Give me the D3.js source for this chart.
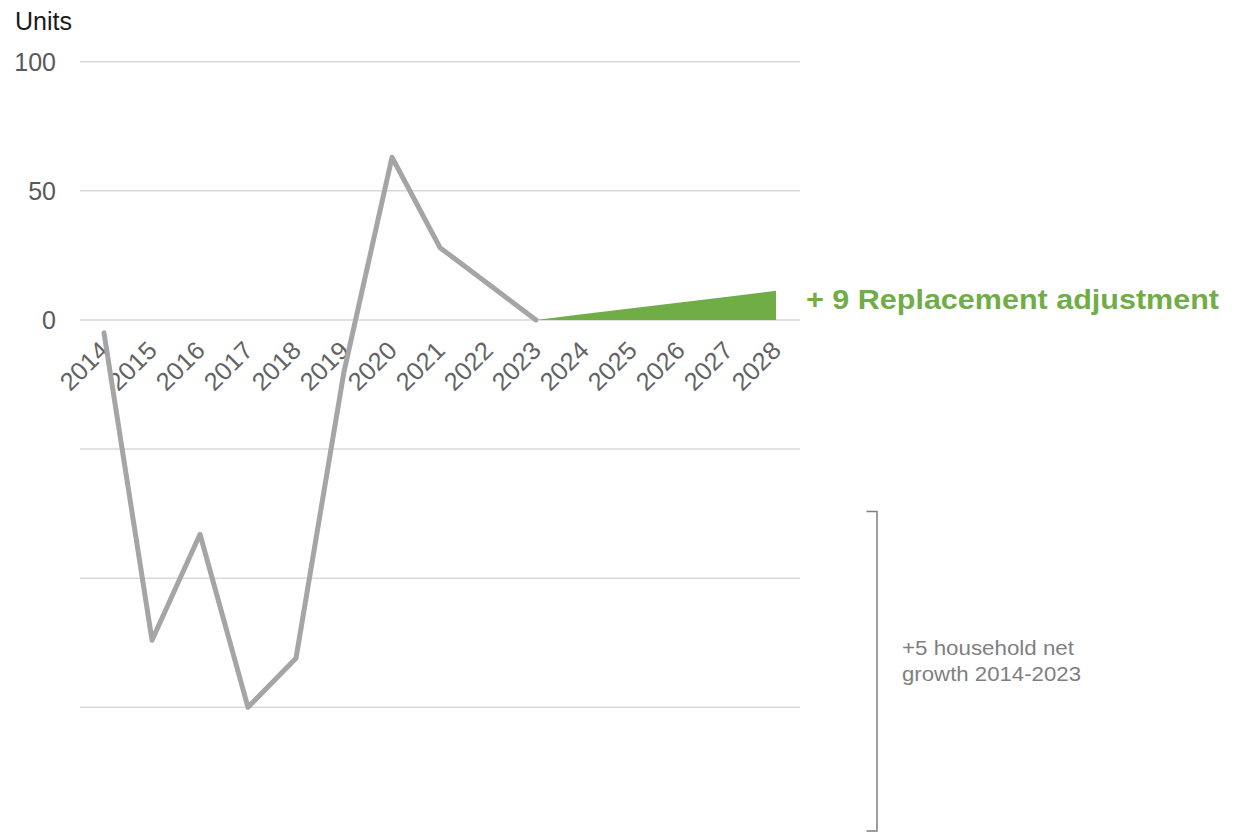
<!DOCTYPE html>
<html>
<head>
<meta charset="utf-8">
<script src="https://cdn.jsdelivr.net/npm/d3@7"></script>
<style>
  html, body { margin: 0; padding: 0; background: #fff; }
  svg { display: block; font-family: "Liberation Sans", Arial, sans-serif; }
</style>
</head>
<body>
<svg id="chart" width="1245" height="833"></svg>
<script>
// ---- data ----
const years = ["2014","2015","2016","2017","2018","2019","2020","2021","2022","2023","2024","2025","2026","2027","2028"];
const historyYears = ["2014","2015","2016","2017","2018","2019","2020","2021","2022","2023"];
const historyValues = [-5, -124, -83, -150, -131, -20, 63, 28, 14, 0];
const forecastYears = ["2023","2024","2025","2026","2027","2028"];
const forecastValues = [0, 2.3, 4.5, 6.8, 9.0, 11.3];
const gridValues = [100, 50, 0, -50, -100, -150];
const yTickLabels = [100, 50, 0];
const unitLabel = "Units";
const replacementLabel = "+ 9 Replacement adjustment";
const growthLabel = ["+5 household net", "growth 2014-2023"];

// ---- scales ----
const svg = d3.select("#chart");
const x = d3.scaleBand().domain(years).range([80, 800]).padding(0);
const cx = d => x(d) + x.bandwidth() / 2;
const y = d3.scaleLinear().domain([-150, 100]).range([707.3, 61.7]);

// gridlines
svg.append("g").selectAll("line").data(gridValues).join("line")
  .attr("x1", 80).attr("x2", 800)
  .attr("y1", d => y(d)).attr("y2", d => y(d))
  .attr("stroke", "#D9D9D9").attr("stroke-width", 1.5);

// y labels
svg.append("g").selectAll("text").data(yTickLabels).join("text")
  .attr("x", 56).attr("y", d => y(d))
  .attr("text-anchor", "end").attr("dominant-baseline", "central")
  .attr("font-size", 25).attr("fill", "#595959")
  .text(d => d);

svg.append("text").attr("x", 15).attr("y", 30)
  .attr("font-size", 25).attr("fill", "#1a1a1a").text(unitLabel);

// green area
const fdata = forecastYears.map((d, i) => ({ year: d, v: forecastValues[i] }));
svg.append("path").datum(fdata)
  .attr("fill", "#70AD47")
  .attr("d", d3.area().x(d => cx(d.year)).y0(y(0)).y1(d => y(d.v)));

// x tick labels
svg.append("g").selectAll("text").data(years).join("text")
  .attr("transform", d => `translate(${cx(d) + 6.5},${352}) rotate(-45)`)
  .attr("text-anchor", "end")
  .attr("font-size", 25).attr("fill", "#636363")
  .attr("textLength", 57).attr("lengthAdjust", "spacingAndGlyphs")
  .text(d => d);

// history line
const hdata = historyYears.map((d, i) => ({ year: d, v: historyValues[i] }));
svg.append("path").datum(hdata)
  .attr("fill", "none").attr("stroke", "#A5A5A5").attr("stroke-width", 5)
  .attr("stroke-linejoin", "round").attr("stroke-linecap", "round")
  .attr("d", d3.line().x(d => cx(d.year)).y(d => y(d.v)));

// replacement label
svg.append("text").attr("x", 806).attr("y", 308.5)
  .attr("font-size", 28).attr("font-weight", "bold")
  .attr("textLength", 413).attr("lengthAdjust", "spacingAndGlyphs")
  .attr("fill", "#70AD47").text(replacementLabel);

// bracket
svg.append("path")
  .attr("d", "M866.5,511.5 H877 V831 H866.5")
  .attr("fill", "none").attr("stroke", "#7F7F7F").attr("stroke-width", 1.5);

const growthWidths = [172, 179];
svg.append("g").selectAll("text").data(growthLabel).join("text")
  .attr("x", 902).attr("y", (d, i) => 654.5 + i * 26)
  .attr("font-size", 20.5)
  .attr("textLength", (d, i) => growthWidths[i]).attr("lengthAdjust", "spacingAndGlyphs")
  .attr("fill", "#7F7F7F").text(d => d);
</script>
</body>
</html>
